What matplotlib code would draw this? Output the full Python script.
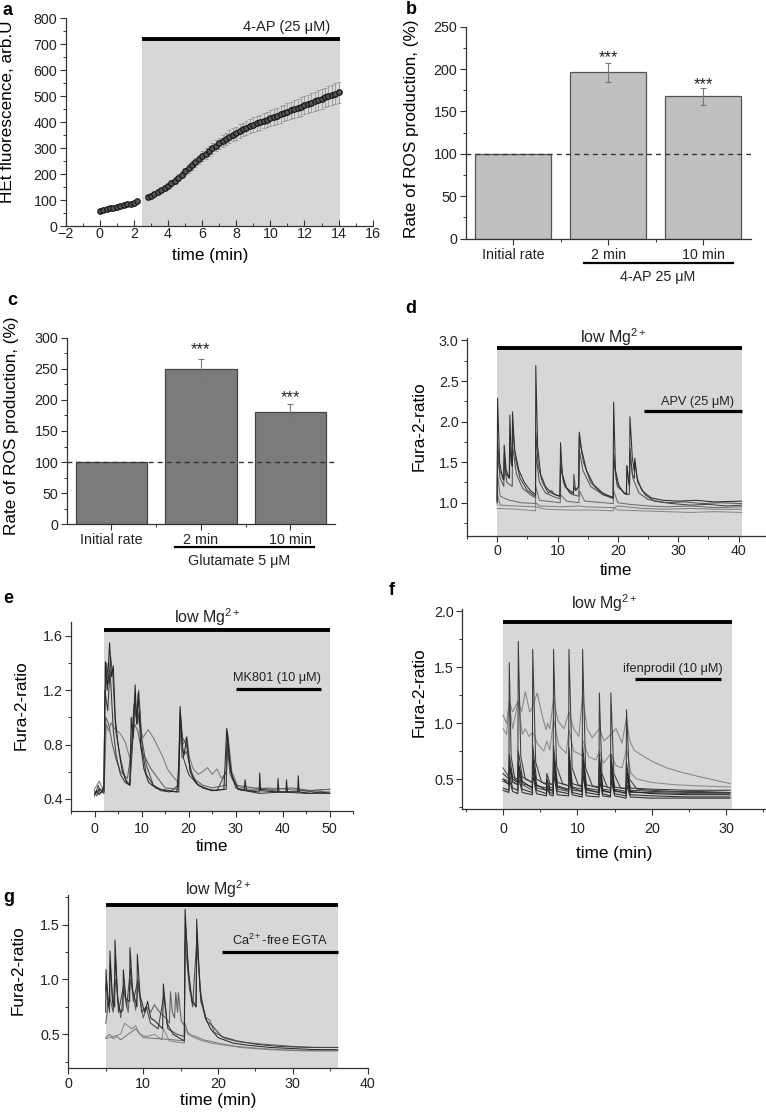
import numpy as np
import matplotlib
matplotlib.use("Agg")
import matplotlib.pyplot as plt
from matplotlib.ticker import MultipleLocator, FixedLocator, FormatStrFormatter
import matplotlib.transforms as mtrans

plt.rcParams['font.family'] = ['Liberation Sans', 'DejaVu Sans']
plt.rcParams['mathtext.fontset'] = 'custom'
plt.rcParams['mathtext.rm'] = 'Liberation Sans'
plt.rcParams['mathtext.it'] = 'Liberation Sans:italic'
plt.rcParams['mathtext.bf'] = 'Liberation Sans:bold'

# ---------------- Panel a data ----------------
a_t1 = [0.0, 0.2, 0.4, 0.6, 0.8, 1.0, 1.2, 1.4, 1.6, 1.8, 2.0, 2.2]
a_v1 = [59, 62, 65, 68, 71, 74, 77, 80, 83, 86, 90, 95]
a_e1 = [3, 3, 3, 3, 4, 4, 4, 4, 4, 5, 5, 5]
a_t2 = [2.8, 3.0, 3.2, 3.4, 3.6, 3.8, 4.0, 4.2, 4.4, 4.6, 4.8, 5.0, 5.2, 5.4, 5.6, 5.8,
        6.0, 6.2, 6.4, 6.6, 6.8, 7.0, 7.2, 7.4, 7.6, 7.8, 8.0, 8.2, 8.4, 8.6, 8.8, 9.0,
        9.2, 9.4, 9.6, 9.8, 10.0, 10.2, 10.4, 10.6, 10.8, 11.0, 11.2, 11.4, 11.6, 11.8,
        12.0, 12.2, 12.4, 12.6, 12.8, 13.0, 13.2, 13.4, 13.6, 13.8, 14.0]
a_v2 = [112, 117, 124, 131, 139, 147, 155, 165, 175, 186, 198, 210, 222, 234, 246, 257,
        268, 279, 289, 299, 309, 318, 327, 336, 344, 351, 358, 365, 372, 378, 384, 390,
        395, 400, 405, 410, 415, 420, 425, 430, 435, 440, 445, 450, 455, 460,
        465, 470, 475, 480, 485, 490, 495, 500, 505, 510, 515]
a_e2 = [6, 6, 7, 7, 8, 9, 10, 11, 12, 13, 14, 15, 16, 17, 17, 18,
        19, 20, 20, 21, 22, 22, 23, 24, 24, 25, 25, 26, 26, 27, 27, 28,
        28, 29, 29, 30, 30, 31, 31, 32, 32, 33, 33, 34, 34, 35,
        35, 36, 36, 37, 37, 38, 38, 39, 39, 40, 40]

# ---------------- Panel b / c data ----------------
bar_cats = ["Initial rate", "2 min", "10 min"]
b_vals = [100, 196, 168]
b_errs = [0, 11, 10]
c_vals = [100, 250, 180]
c_errs = [0, 16, 14]

# ---------------- Panel d traces ----------------
d1_t = [0, 0.06, 0.4, 0.9, 1.1, 1.16, 1.5, 2.0, 2.1, 2.35, 2.5, 2.54, 2.9, 3.6, 4.5, 5.5, 6.35, 6.4, 6.7, 7.2,
        8.0, 9.0, 10.4, 10.5, 10.8, 11.5, 12.6, 12.7, 13.0, 13.5, 13.6, 14.0, 14.8, 16.0, 17.5, 19.2, 19.3, 19.6, 20.2, 21.0,
        21.4, 21.5, 21.8, 21.95, 22.0, 22.4, 22.7, 22.8, 23.2, 24.0, 25.5, 27.5, 30, 33, 36, 40.5]
d1_v = [1.02, 2.29, 1.5, 1.3, 1.28, 1.71, 1.4, 1.3, 2.08, 1.55, 1.45, 2.12, 1.65, 1.4, 1.25, 1.15, 1.1, 2.69, 1.7, 1.35,
        1.2, 1.12, 1.08, 1.74, 1.35, 1.18, 1.12, 1.2, 1.15, 1.2, 1.87, 1.65, 1.4, 1.22, 1.12, 1.06, 2.24, 1.4, 1.2, 1.12,
        1.1, 1.46, 1.25, 1.22, 2.06, 1.55, 1.4, 1.55, 1.3, 1.15, 1.06, 1.03, 1.02, 1.03, 1.01, 1.02]
d2_t = [0, 0.06, 0.4, 1.1, 1.16, 1.5, 2.05, 2.1, 2.3, 2.5, 2.54, 3.0, 3.8, 5.0, 6.35, 6.4, 6.8, 7.5, 8.5, 9.0,
        9.5, 10.4, 10.5, 11.0, 12.0, 12.65, 12.7, 13.0, 13.5, 13.6, 14.3, 15.5, 17.5, 19.25, 19.3, 19.8, 21.0, 21.9, 22.0, 22.4,
        22.75, 22.8, 23.3, 24.5, 26, 29, 32, 35, 38, 40.5]
d2_v = [1.05, 1.75, 1.4, 1.3, 1.6, 1.35, 1.3, 1.8, 1.5, 1.45, 1.95, 1.55, 1.3, 1.15, 1.08, 1.87, 1.45, 1.25, 1.12, 1.15,
        1.1, 1.08, 1.5, 1.25, 1.12, 1.1, 1.35, 1.15, 1.2, 1.8, 1.5, 1.25, 1.1, 1.07, 1.6, 1.25, 1.12, 1.1, 1.67, 1.35,
        1.3, 1.5, 1.25, 1.1, 1.02, 0.99, 0.97, 0.98, 0.96, 0.97]
d3_t = [0, 0.06, 0.5, 1.1, 1.16, 1.6, 2.5, 2.54, 3.2, 4.2, 5.5, 6.35, 6.4, 7.0, 8.0, 9.5, 10.45, 10.5, 11.2, 12.5,
        13.55, 13.6, 14.2, 15.5, 17.5, 19.25, 19.3, 19.9, 21.45, 21.5, 21.9, 22.0, 22.5, 23.5, 25, 28, 31, 34, 37, 40.5]
d3_v = [1.0, 1.6, 1.3, 1.2, 1.5, 1.25, 1.2, 1.7, 1.35, 1.18, 1.1, 1.06, 1.6, 1.25, 1.12, 1.07, 1.05, 1.45, 1.2, 1.1,
        1.08, 1.65, 1.4, 1.2, 1.1, 1.05, 1.55, 1.2, 1.1, 1.45, 1.2, 1.6, 1.3, 1.12, 1.04, 1.0, 1.01, 0.99, 1.0, 0.99]
d4_t = [0, 0.06, 0.5, 2.0, 4.0, 6.35, 6.4, 7.0, 10.45, 10.5, 11.5, 13.55, 13.6, 14.5, 19.25, 19.3, 20.0, 22.0, 25, 28,
        32, 36, 40.5]
d4_v = [1.0, 1.35, 1.08, 1.03, 1.0, 0.99, 1.2, 1.03, 1.0, 1.1, 1.02, 1.0, 1.15, 1.02, 0.99, 1.15, 1.0, 0.98, 0.96, 0.95,
        0.96, 0.94, 0.95]
d5_t = [0, 0.06, 0.5, 3, 6.35, 6.4, 7.0, 10.5, 13.6, 14.5, 19.3, 20.0, 24, 28, 32, 36, 40.5]
d5_v = [0.97, 1.1, 0.97, 0.96, 0.95, 1.0, 0.96, 0.95, 0.96, 0.95, 0.94, 0.96, 0.93, 0.92, 0.93, 0.92, 0.92]
d6_t = [0, 3, 6.35, 6.4, 8, 12, 16, 19.25, 19.3, 20, 24, 28, 32, 36, 40.5]
d6_v = [0.93, 0.92, 0.9, 0.95, 0.92, 0.91, 0.91, 0.9, 0.94, 0.91, 0.9, 0.89, 0.88, 0.89, 0.88]

# ---------------- Panel e traces ----------------
e1_t = [0, 0.5, 1.0, 1.5, 2.0, 2.3, 2.7, 3.2, 3.6, 4.0, 4.4, 5.0, 5.8, 6.8, 7.5, 7.8, 8.2, 8.63, 9.0, 9.3,
        9.8, 10.5, 11.5, 13, 15, 17.5, 18.0, 18.2, 18.6, 19.0, 19.6, 20.3, 21.5, 23, 25, 27.5, 28.1, 28.6, 29.3, 30.5,
        31.8, 32.0, 32.3, 35, 35.1, 35.3, 38.9, 39.0, 39.2, 40.7, 40.8, 41.0, 43.2, 43.3, 43.5, 46, 48, 50]
e1_v = [0.44, 0.46, 0.43, 0.45, 0.5, 1.41, 1.2, 1.55, 1.3, 1.38, 1.0, 0.8, 0.62, 0.52, 0.5, 1.0, 0.85, 1.24, 0.95, 1.18,
        0.8, 0.62, 0.52, 0.48, 0.46, 0.45, 0.7, 1.08, 0.8, 0.72, 0.85, 0.6, 0.52, 0.48, 0.46, 0.47, 0.92, 0.7, 0.55, 0.47,
        0.46, 0.54, 0.46, 0.45, 0.59, 0.46, 0.45, 0.55, 0.45, 0.45, 0.54, 0.45, 0.45, 0.57, 0.45, 0.44, 0.45, 0.44]
e2_t = [0, 0.8, 1.2, 2.0, 2.2, 2.6, 3.0, 3.4, 3.9, 4.5, 5.5, 6.5, 7.5, 8.0, 8.4, 8.9, 9.4, 10.0, 11, 12.5,
        14, 16, 17.8, 18.2, 18.7, 19.5, 20.5, 22, 24, 26, 28.0, 28.3, 29.0, 30, 33, 36, 40, 44, 47, 50]
e2_v = [0.42, 0.5, 0.44, 0.47, 1.1, 1.4, 1.25, 1.45, 1.3, 0.9, 0.7, 0.55, 0.5, 0.9, 1.1, 1.0, 1.2, 0.85, 0.65, 0.5,
        0.46, 0.45, 0.5, 1.05, 0.85, 0.8, 0.6, 0.5, 0.47, 0.46, 0.6, 0.88, 0.6, 0.48, 0.46, 0.47, 0.45, 0.46, 0.45, 0.45]
e3_t = [0, 1.0, 2.0, 2.5, 3.0, 3.5, 4.2, 4.8, 5.5, 6.5, 7.5, 8.2, 8.8, 9.5, 10.3, 11.4, 12.5, 13.5, 14.5, 15.5,
        17.0, 17.8, 18.3, 18.8, 19.6, 20.2, 21.0, 22.0, 23.0, 24.0, 25.0, 26.0, 27.0, 28.0, 28.4, 29.2, 30.5, 33, 37, 41,
        45, 50]
e3_v = [0.47, 0.53, 0.45, 0.95, 0.9, 0.96, 0.92, 0.9, 0.88, 0.82, 0.7, 0.9, 1.05, 0.95, 0.85, 0.91, 0.85, 0.78, 0.71, 0.62,
        0.55, 0.52, 0.98, 0.8, 0.86, 0.7, 0.62, 0.58, 0.6, 0.63, 0.58, 0.62, 0.55, 0.6, 0.85, 0.6, 0.49, 0.47, 0.48, 0.47,
        0.46, 0.47]
e4_t = [0, 0.5, 1.0, 2.0, 2.4, 3.0, 3.8, 4.5, 5.5, 7.0, 8.0, 8.5, 9.2, 10.0, 10.8, 12, 13.5, 15, 17.8, 18.1,
        18.6, 19.5, 21, 23, 25, 28.0, 28.2, 28.8, 30, 34, 38, 42, 46, 50]
e4_v = [0.46, 0.42, 0.48, 0.45, 1.0, 0.95, 0.8, 0.7, 0.6, 0.55, 0.8, 0.95, 0.9, 0.75, 0.7, 0.62, 0.55, 0.48, 0.47, 0.95,
        0.7, 0.75, 0.55, 0.5, 0.48, 0.5, 0.8, 0.58, 0.5, 0.48, 0.47, 0.48, 0.46, 0.47]
e5_t = [0, 1, 2.0, 2.2, 2.8, 3.3, 4.0, 4.6, 5.5, 6.5, 7.5, 8.0, 8.6, 9.0, 9.6, 10.2, 11, 12.5, 14, 16,
        17.9, 18.2, 18.9, 20, 22, 25, 28.0, 28.2, 28.9, 30.5, 35, 40, 45, 50]
e5_v = [0.43, 0.47, 0.44, 1.2, 1.05, 1.35, 0.9, 0.72, 0.58, 0.52, 0.5, 0.75, 1.15, 0.95, 1.05, 0.75, 0.58, 0.5, 0.47, 0.46,
        0.45, 1.02, 0.7, 0.58, 0.5, 0.46, 0.47, 0.9, 0.6, 0.47, 0.44, 0.45, 0.44, 0.44]

# ---------------- Panel f traces ----------------
f1_t = [0, 0.8, 0.85, 1.1, 1.6, 2.0, 2.06, 2.4, 3.0, 3.95, 4.0, 4.4, 5.2, 6.75, 6.8, 7.2, 8.0, 8.82, 8.87, 9.3,
        10.1, 10.65, 10.7, 11.1, 12.0, 12.9, 12.95, 13.3, 14.0, 14.45, 14.5, 14.9, 15.8, 16.55, 16.6, 17.0, 18.0, 20, 23, 26,
        30.5]
f1_v = [0.5, 0.48, 1.54, 0.7, 0.5, 0.48, 1.73, 0.7, 0.5, 0.47, 1.66, 0.65, 0.47, 0.45, 1.66, 0.62, 0.46, 0.44, 1.66, 0.6,
        0.45, 0.44, 1.66, 0.6, 0.44, 0.43, 1.27, 0.55, 0.43, 0.42, 1.27, 0.55, 0.42, 0.42, 1.12, 0.5, 0.41, 0.4, 0.39, 0.39,
        0.38]
f2_t = [0, 0.5, 0.85, 1.3, 2.06, 2.5, 3.0, 3.6, 4.0, 4.6, 5.3, 5.8, 6.0, 6.3, 6.8, 7.4, 8.2, 8.87, 9.5, 10.2,
        10.7, 11.3, 12.0, 12.95, 13.6, 14.5, 15.2, 16.0, 16.6, 17.0, 17.6, 18.5, 20.0, 22.0, 24.0, 26.5, 28.5, 30.5]
f2_v = [1.07, 1.0, 1.2, 1.1, 1.2, 1.1, 1.28, 1.1, 1.15, 1.27, 1.06, 0.94, 1.0, 0.95, 1.22, 1.02, 0.95, 1.1, 0.95, 0.88,
        1.25, 0.95, 0.87, 0.95, 0.84, 0.9, 0.95, 0.82, 1.05, 0.85, 0.76, 0.72, 0.66, 0.6, 0.56, 0.52, 0.49, 0.46]
f3_t = [0, 0.5, 0.85, 1.3, 2.06, 2.6, 3.0, 3.5, 4.0, 4.6, 5.5, 5.9, 6.3, 6.8, 7.5, 8.5, 8.87, 9.5, 10.65, 10.7,
        11.5, 12.5, 12.95, 13.5, 14.5, 15.2, 16.0, 16.6, 17.2, 18.0, 20.0, 23, 26, 30.5]
f3_v = [0.95, 0.9, 1.18, 0.95, 1.2, 0.9, 0.95, 0.88, 0.92, 0.82, 0.75, 0.84, 0.76, 1.03, 0.8, 0.73, 0.94, 0.75, 0.71, 0.85,
        0.7, 0.67, 0.75, 0.64, 0.73, 0.62, 0.6, 0.77, 0.55, 0.5, 0.47, 0.45, 0.44, 0.43]
f_low_t = [0, 0.8, 0.85, 1.3, 2.0, 2.06, 2.6, 3.95, 4.0, 4.5, 5.85, 5.9, 6.3, 6.75, 6.8, 7.3, 8.82, 8.87, 9.3, 10.65,
           10.7, 11.2, 12.9, 12.95, 13.4, 14.45, 14.5, 15.0, 16.55, 16.6, 17.1, 20, 25, 30.5]
f4_v = [0.5, 0.45, 0.62, 0.5, 0.47, 0.65, 0.48, 0.42, 0.7, 0.45, 0.4, 0.5, 0.41, 0.4, 0.72, 0.43, 0.4, 0.7, 0.42, 0.39,
        0.72, 0.41, 0.38, 0.68, 0.4, 0.38, 0.68, 0.4, 0.37, 0.6, 0.39, 0.37, 0.36, 0.36]
f5_v = [0.42, 0.4, 0.55, 0.42, 0.4, 0.58, 0.41, 0.38, 0.6, 0.4, 0.37, 0.45, 0.38, 0.37, 0.62, 0.39, 0.37, 0.6, 0.38, 0.36,
        0.62, 0.38, 0.36, 0.58, 0.37, 0.35, 0.58, 0.37, 0.35, 0.52, 0.36, 0.35, 0.34, 0.34]
f6_v = [0.55, 0.5, 0.72, 0.52, 0.5, 0.75, 0.52, 0.47, 0.8, 0.5, 0.45, 0.55, 0.46, 0.45, 0.8, 0.47, 0.44, 0.78, 0.46, 0.43,
        0.8, 0.45, 0.42, 0.72, 0.44, 0.42, 0.72, 0.43, 0.41, 0.65, 0.42, 0.41, 0.4, 0.4]
f7_v = [0.6, 0.52, 0.6, 0.48, 0.45, 0.6, 0.45, 0.4, 0.58, 0.42, 0.4, 0.44, 0.4, 0.39, 0.55, 0.41, 0.39, 0.55, 0.4, 0.39,
        0.55, 0.4, 0.38, 0.5, 0.39, 0.38, 0.5, 0.39, 0.38, 0.46, 0.38, 0.38, 0.37, 0.37]
f8_v = [0.48, 0.46, 0.66, 0.47, 0.45, 0.62, 0.46, 0.43, 0.65, 0.44, 0.42, 0.48, 0.43, 0.42, 0.66, 0.44, 0.41, 0.64, 0.43, 0.41,
        0.66, 0.42, 0.4, 0.6, 0.41, 0.4, 0.6, 0.41, 0.39, 0.55, 0.4, 0.39, 0.38, 0.38]
f9_v = [0.4, 0.38, 0.5, 0.39, 0.37, 0.52, 0.38, 0.36, 0.54, 0.37, 0.35, 0.42, 0.36, 0.35, 0.55, 0.36, 0.35, 0.53, 0.36, 0.34,
        0.55, 0.35, 0.34, 0.5, 0.35, 0.34, 0.5, 0.35, 0.33, 0.45, 0.34, 0.33, 0.33, 0.33]

# ---------------- Panel g traces ----------------
g1_t = [5.0, 5.04, 5.3, 5.5, 5.57, 5.9, 6.2, 6.24, 6.6, 7.0, 7.3, 7.35, 7.7, 8.2, 8.24, 8.6, 9.18, 9.22, 9.6, 10.2,
        10.6, 11.0, 11.6, 12.6, 12.7, 13.2, 14.0, 15.0, 15.5, 15.6, 16.0, 16.5, 17.1, 17.15, 17.6, 18.3, 19.0, 20.0, 22, 24,
        27, 30, 33, 36]
g1_v = [0.7, 1.09, 0.75, 0.8, 1.26, 0.8, 0.75, 1.36, 0.8, 0.7, 0.72, 1.09, 0.82, 0.8, 1.29, 0.9, 0.75, 1.23, 0.85, 0.7,
        0.8, 0.65, 0.62, 0.55, 0.96, 0.6, 0.5, 0.46, 0.44, 1.64, 1.1, 0.8, 0.75, 1.55, 0.9, 0.65, 0.55, 0.47, 0.42, 0.4,
        0.38, 0.37, 0.36, 0.36]
g2_t = [5.0, 5.1, 5.5, 5.6, 6.0, 6.3, 6.7, 7.4, 7.8, 8.3, 8.7, 9.3, 9.8, 10.4, 11.0, 12.0, 12.75, 13.3, 14.5, 15.5,
        15.65, 16.1, 16.6, 17.2, 17.7, 18.5, 19.2, 20.5, 22.5, 25, 28, 32, 36]
g2_v = [0.9, 1.0, 0.7, 1.15, 0.72, 1.2, 0.7, 0.95, 0.75, 1.1, 0.8, 1.0, 0.7, 0.75, 0.6, 0.55, 0.85, 0.55, 0.5, 0.48,
        1.5, 1.05, 0.75, 1.4, 0.8, 0.62, 0.58, 0.48, 0.44, 0.41, 0.39, 0.38, 0.38]
g3_t = [5.0, 5.5, 6.0, 6.3, 7.0, 7.4, 8.0, 8.3, 9.0, 9.3, 10.0, 10.5, 11.0, 11.5, 12.0, 12.5, 13.0, 13.5, 13.65, 13.9,
        14.2, 14.35, 14.6, 14.7, 15.1, 15.5, 15.6, 16.2, 17.0, 17.2, 17.8, 18.4, 18.9, 19.5, 21, 23, 26, 30, 33, 36]
g3_v = [0.6, 0.85, 0.7, 1.0, 0.65, 0.9, 0.7, 1.0, 0.72, 0.95, 0.65, 0.75, 0.7, 0.77, 0.72, 0.68, 0.65, 0.6, 0.89, 0.7,
        0.65, 0.88, 0.7, 0.88, 0.62, 0.58, 1.35, 0.9, 0.75, 1.3, 0.8, 0.65, 0.63, 0.52, 0.46, 0.43, 0.41, 0.39, 0.38, 0.38]
g4_t = [5.0, 5.5, 6.0, 6.5, 7.0, 8.0, 9.0, 10.0, 12.0, 14.0, 15.5, 15.6, 16.0, 17.0, 18, 20, 23, 27, 31, 36]
g4_v = [0.47, 0.5, 0.46, 0.48, 0.45, 0.5, 0.55, 0.47, 0.46, 0.45, 0.44, 0.6, 0.5, 0.48, 0.45, 0.42, 0.38, 0.36, 0.35, 0.35]
g5_t = [5.0, 6.0, 7.0, 7.5, 8.5, 9.0, 9.5, 10.5, 11.5, 12.5, 12.7, 13.5, 15.5, 15.6, 16.5, 17.5, 19, 21, 24, 28, 32, 36]
g5_v = [0.46, 0.48, 0.5, 0.6, 0.55, 0.58, 0.5, 0.48, 0.5, 0.45, 0.55, 0.44, 0.42, 0.55, 0.48, 0.45, 0.42, 0.4, 0.38, 0.36,
        0.35, 0.35]

# ---------------- figure ----------------
W, H = 766, 1114
fig = plt.figure(figsize=(W / 100, H / 100), dpi=100)
SHADE = '#d7d7d7'
AX_COL = '#333333'
TICK_FS = 10.3
LAB_FS = 12.3


def pix_axes(l, t, r, b):
    return fig.add_axes([l / W, 1 - b / H, (r - l) / W, (b - t) / H])


def style(ax):
    for s in ('top', 'right'):
        ax.spines[s].set_visible(False)
    for s in ('left', 'bottom'):
        ax.spines[s].set_color(AX_COL)
        ax.spines[s].set_linewidth(0.9)
    ax.tick_params(which='major', length=4, width=0.8, colors=AX_COL, labelsize=TICK_FS,
                   labelcolor='#222222', pad=2)
    ax.tick_params(which='minor', length=2.2, width=0.7, colors=AX_COL)
    ax.patch.set_alpha(0)


def letter(x, y, s):
    fig.text(x / W, 1 - y / H, s, fontsize=13, fontweight='bold', va='baseline', ha='left')


def treatment(ax, x0, x1, ytop, ybot, label, lx, ly, fs=11.5, shade=True, lw=2.8):
    if shade:
        ax.fill_between([x0, x1], [ybot, ybot], [ytop, ytop], color=SHADE, lw=0, zorder=0)
    ax.plot([x0, x1], [ytop, ytop], color='black', lw=lw, solid_capstyle='butt', zorder=5, clip_on=False)
    ax.text(lx, ly, label, ha='center', va='center', fontsize=fs, color='#222222', clip_on=False)


# ---------- a ----------
ax = pix_axes(65.7, 18.3, 372.7, 226)
style(ax)
ax.tick_params(axis='x', which='both', direction='in', pad=1.0)
ax.set_xlim(-2, 16)
ax.set_ylim(0, 800)
treatment(ax, 2.5, 14.1, 720, 0, '4-AP (25 \u03bcM)', 10.96, 768, fs=10.5, lw=2.8)
ax.errorbar(a_t1, a_v1, yerr=a_e1, fmt='none', ecolor='#8a8a8a', elinewidth=0.5, capsize=1.6, capthick=0.5, zorder=2)
ax.errorbar(a_t2, a_v2, yerr=a_e2, fmt='none', ecolor='#8a8a8a', elinewidth=0.5, capsize=1.6, capthick=0.5, zorder=2)
ax.plot(a_t1, a_v1, 'o', ms=4.0, mfc='#555555', mec='#111111', mew=0.8, zorder=3)
ax.plot(a_t2, a_v2, 'o', ms=4.0, mfc='#555555', mec='#111111', mew=0.8, zorder=3)
ax.xaxis.set_major_locator(MultipleLocator(2))
ax.xaxis.set_minor_locator(MultipleLocator(1))
ax.yaxis.set_major_locator(MultipleLocator(100))
ax.yaxis.set_minor_locator(MultipleLocator(50))
ax.set_ylabel('HEt fluorescence, arb.U', fontsize=LAB_FS)
ax.yaxis.set_label_coords(-0.165, 0.55)
ax.set_xlabel('time (min)', fontsize=LAB_FS)
ax.xaxis.set_label_coords(0.47, -0.105)
letter(3, 15, 'a')


# ---------- bar panels ----------
def bar_panel(rect, vals, errs, ymax, color, edge, stars_y, group_label, line_y, text_y, line_x, text_x,
              ylab_coords):
    ax = pix_axes(*rect)
    style(ax)
    x = np.arange(len(vals))
    ax.bar(x, vals, width=0.8, color=color, edgecolor=edge, linewidth=0.9, zorder=2)
    ax.errorbar(x[1:], vals[1:], yerr=errs[1:], fmt='none', ecolor='#777777', elinewidth=0.8,
                capsize=2.5, capthick=0.8, zorder=3)
    ax.axhline(100, color='#333333', lw=1.0, ls=(0, (3.5, 3)), zorder=4)
    for xi, sy in zip(x[1:], stars_y):
        ax.text(xi, sy, '***', ha='center', va='center', fontsize=12, color='#222222')
    ax.set_xlim(-0.5, 2.5)
    ax.set_ylim(0, ymax)
    ax.set_xticks(x)
    ax.set_xticklabels(bar_cats)
    ax.xaxis.set_minor_locator(FixedLocator([0.5, 1.5]))
    ax.yaxis.set_major_locator(MultipleLocator(50))
    ax.yaxis.set_minor_locator(MultipleLocator(25))
    ax.tick_params(axis='x', which='major', pad=2.5)
    tr = mtrans.blended_transform_factory(ax.transData, ax.transAxes)
    ax.plot(line_x, [line_y, line_y], color='black', lw=1.6, transform=tr, clip_on=False)
    ax.text(text_x, text_y, group_label, transform=tr, ha='center', va='center', fontsize=TICK_FS,
            color='#222222')
    ax.set_ylabel('Rate of ROS production, (%)', fontsize=LAB_FS)
    ax.yaxis.set_label_coords(*ylab_coords)
    return ax


bar_panel((465.7, 26.7, 751, 238.7), b_vals, b_errs, 250, '#c0c0c0', '#555555', [214, 182],
          '4-AP 25 \u03bcM', -0.116, -0.18, [0.744, 2.31], 1.52, (-0.164, 0.52))
letter(406, 14, 'b')
bar_panel((66.7, 337.7, 335, 524.3), c_vals, c_errs, 300, '#7b7b7b', '#444444', [281, 204],
          'Glutamate 5 \u03bcM', -0.122, -0.197, [0.707, 2.27], 1.43, (-0.178, 0.53))
letter(7, 305, 'c')


def traces(ax, data, colors, lw=0.75):
    for (t, v), c in zip(data, colors):
        ax.plot(t, v, color=c, lw=lw, zorder=3, solid_joinstyle='round')


MG = 'low Mg$^{\\mathregular{2+}}$'

# ---------- d ----------
ax = pix_axes(467, 338, 765.7, 536)
style(ax)
ax.set_xlim(-5, 44.5)
ax.set_ylim(0.59, 3.03)
treatment(ax, 0, 40.5, 2.91, 0.59, MG, 19.2, 3.04, fs=11.5)
treatment(ax, 24.3, 40.5, 2.13, 0, 'APV (25 \u03bcM)', 33.2, 2.24, fs=9.2, shade=False, lw=2.3)
traces(ax, [(d6_t, d6_v), (d5_t, d5_v), (d4_t, d4_v), (d3_t, d3_v), (d2_t, d2_v), (d1_t, d1_v)],
       ['#8a8a8a', '#7e7e7e', '#6e6e6e', '#555555', '#444444', '#2e2e2e'])
ax.xaxis.set_major_locator(MultipleLocator(10))
ax.xaxis.set_minor_locator(MultipleLocator(5))
ax.yaxis.set_major_locator(MultipleLocator(0.5))
ax.yaxis.set_minor_locator(MultipleLocator(0.25))
ax.yaxis.set_major_formatter(FormatStrFormatter('%.1f'))
ax.set_ylabel('Fura-2-ratio', fontsize=LAB_FS)
ax.yaxis.set_label_coords(-0.136, 0.553)
ax.set_xlabel('time', fontsize=LAB_FS)
ax.xaxis.set_label_coords(0.5, -0.135)
letter(405, 313, 'd')

# ---------- e ----------
ax = pix_axes(71, 621.7, 353.3, 811)
style(ax)
ax.tick_params(axis='x', which='major', pad=4)
ax.set_xlim(-5, 55)
ax.set_ylim(0.31, 1.705)
treatment(ax, 2, 50, 1.645, 0.31, MG, 24.0, 1.74, fs=11.5)
treatment(ax, 30, 48.1, 1.21, 0, 'MK801 (10 \u03bcM)', 38.7, 1.29, fs=9.2, shade=False, lw=2.3)
traces(ax, [(e3_t, e3_v), (e4_t, e4_v), (e2_t, e2_v), (e5_t, e5_v), (e1_t, e1_v)],
       ['#7a7a7a', '#5e5e5e', '#4a4a4a', '#3a3a3a', '#262626'])
ax.xaxis.set_major_locator(MultipleLocator(10))
ax.xaxis.set_minor_locator(MultipleLocator(5))
ax.yaxis.set_major_locator(MultipleLocator(0.4))
ax.yaxis.set_minor_locator(MultipleLocator(0.2))
ax.set_ylabel('Fura-2-ratio', fontsize=LAB_FS)
ax.yaxis.set_label_coords(-0.15, 0.56)
ax.set_xlabel('time', fontsize=LAB_FS)
ax.xaxis.set_label_coords(0.5, -0.148)
letter(3, 603, 'e')

# ---------- f ----------
ax = pix_axes(462, 609, 765.7, 809.3)
style(ax)
ax.tick_params(axis='x', which='major', pad=5.5)
ax.set_xlim(-5.5, 35.3)
ax.set_ylim(0.23, 2.02)
treatment(ax, 0, 30.8, 1.9, 0.23, MG, 13.6, 2.07, fs=11.5)
treatment(ax, 17.7, 29.3, 1.39, 0, 'ifenprodil (10 \u03bcM)', 22.8, 1.48, fs=9.2, shade=False, lw=2.3)
traces(ax, [(f2_t, f2_v), (f3_t, f3_v), (f_low_t, f7_v), (f_low_t, f8_v), (f_low_t, f6_v), (f_low_t, f9_v),
            (f_low_t, f4_v), (f_low_t, f5_v), (f1_t, f1_v)],
       ['#858585', '#8a8a8a', '#4d4d4d', '#3d3d3d', '#333333', '#2a2a2a', '#1e1e1e', '#2a2a2a', '#3c3c3c'])
ax.xaxis.set_major_locator(MultipleLocator(10))
ax.xaxis.set_minor_locator(MultipleLocator(5))
ax.yaxis.set_major_locator(MultipleLocator(0.5))
ax.yaxis.set_minor_locator(MultipleLocator(0.25))
ax.yaxis.set_major_formatter(FormatStrFormatter('%.1f'))
ax.set_ylabel('Fura-2-ratio', fontsize=LAB_FS)
ax.yaxis.set_label_coords(-0.115, 0.586)
ax.set_xlabel('time (min)', fontsize=LAB_FS)
ax.xaxis.set_label_coords(0.5, -0.183)
letter(389, 595, 'f')

# ---------- g ----------
ax = pix_axes(68.3, 895, 367.7, 1068.3)
style(ax)
ax.set_xlim(0, 40)
ax.set_ylim(0.19, 1.77)
treatment(ax, 5, 36, 1.68, 0.19, MG, 20.1, 1.82, fs=11.5)
treatment(ax, 20.5, 36, 1.25, 0, 'Ca$^{\\mathregular{2+}}$-free EGTA', 28.3, 1.36, fs=9.2, shade=False, lw=2.3)
traces(ax, [(g5_t, g5_v), (g4_t, g4_v), (g3_t, g3_v), (g2_t, g2_v), (g1_t, g1_v)],
       ['#8a8a8a', '#7a7a7a', '#5e5e5e', '#444444', '#2a2a2a'])
ax.xaxis.set_major_locator(MultipleLocator(10))
ax.xaxis.set_minor_locator(MultipleLocator(5))
ax.yaxis.set_major_locator(MultipleLocator(0.5))
ax.yaxis.set_minor_locator(MultipleLocator(0.25))
ax.yaxis.set_major_formatter(FormatStrFormatter('%.1f'))
ax.set_ylabel('Fura-2-ratio', fontsize=LAB_FS)
ax.yaxis.set_label_coords(-0.143, 0.567)
ax.set_xlabel('time (min)', fontsize=LAB_FS)
ax.xaxis.set_label_coords(0.5, -0.142)
letter(3, 902, 'g')

fig.savefig('out.png', dpi=100)
